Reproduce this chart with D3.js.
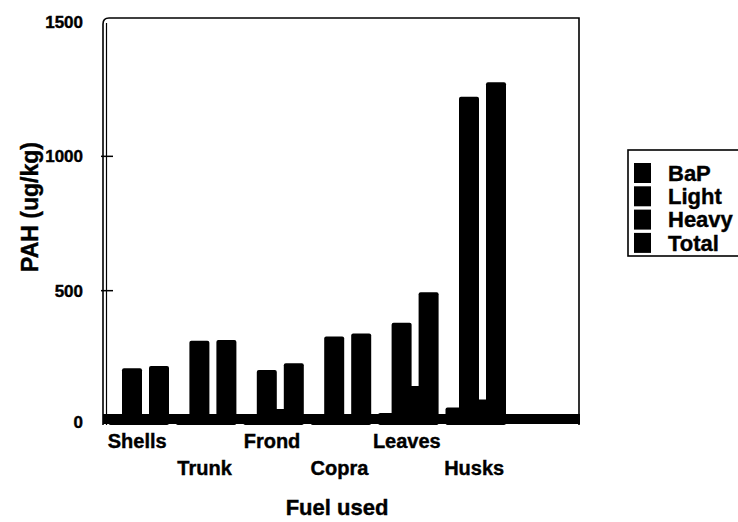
<!DOCTYPE html>
<html>
<head>
<meta charset="utf-8">
<script src="https://cdn.jsdelivr.net/npm/d3@7"></script>
<style>
    body { margin: 0; background: #fff; }
    text { font-family: "Liberation Sans", Arial, sans-serif; font-weight: bold; fill: #000; stroke: #000; stroke-width: 0.4px; }
</style>
</head>
<body>
<div id="chart"></div>
<script>
// Data
const categories = ["Shells", "Trunk", "Frond", "Copra", "Leaves", "Husks"];
const series = ["BaP", "Light", "Heavy", "Total"];
const bap = [15, 15, 40, 25, 45, 65];
const light = [211, 314, 205, 329, 381, 1222];
const heavy = [30, 20, 60, 35, 145, 95];
const total = [220, 316, 230, 341, 494, 1276];
const yTicks = [0, 500, 1000, 1500];

const values = { BaP: bap, Light: light, Heavy: heavy, Total: total };

const width = 738, height = 522;

const svg = d3.select("#chart")
    .append("svg")
    .attr("width", width)
    .attr("height", height);

svg.append("rect")
    .attr("width", width)
    .attr("height", height)
    .attr("fill", "#fff");

// Scales
const y = d3.scaleLinear()
    .domain([0, 1500])
    .range([425, 22]);

const x0 = d3.scaleBand()
    .domain(categories)
    .range([105, 105 + 6 * 67.4]);

// bars overlap each other inside a group
const x1 = d3.scaleBand()
    .domain(series)
    .range([3.5, 57.5]);
const barWidth = 20;

// Flatten for drawing, in series order so later bars sit on top
const data = [];
categories.forEach((c, i) => {
    series.forEach(s => {
        data.push({ cat: c, key: s, value: values[s][i] });
    });
});

// Bars
svg.append("g")
    .selectAll("rect")
    .data(data)
    .join("rect")
    .attr("x", d => x0(d.cat) + x1(d.key))
    .attr("y", d => y(d.value))
    .attr("width", barWidth)
    .attr("height", d => y(0) - y(d.value))
    .attr("rx", 2)
    .attr("fill", "#000");

// Frame (rounded top-left corner, double left line)
const frameLeft = 103, frameRight = 579, frameTop = 18;
svg.append("path")
    .attr("d", `M${frameLeft},${y(0)} V${frameTop + 6} Q${frameLeft},${frameTop} ${frameLeft + 6},${frameTop} H${frameRight} V${y(0)}`)
    .attr("fill", "none")
    .attr("stroke", "#000")
    .attr("stroke-width", 1.6);
svg.append("line")
    .attr("x1", frameLeft + 3.5).attr("x2", frameLeft + 3.5)
    .attr("y1", frameTop + 5).attr("y2", y(0))
    .attr("stroke", "#000")
    .attr("stroke-width", 1.2);

// Thick baseline
svg.append("line")
    .attr("x1", frameLeft).attr("x2", frameRight + 1)
    .attr("y1", y(0) - 6).attr("y2", y(0) - 6)
    .attr("stroke", "#000")
    .attr("stroke-width", 10);

// Y ticks and labels
svg.append("g")
    .selectAll("line")
    .data(yTicks.filter(t => t > 0 && t < 1500))
    .join("line")
    .attr("x1", frameLeft - 2).attr("x2", frameLeft + 10)
    .attr("y1", d => y(d)).attr("y2", d => y(d))
    .attr("stroke", "#000")
    .attr("stroke-width", 1.5);

svg.append("g")
    .selectAll("text")
    .data(yTicks)
    .join("text")
    .attr("x", 83)
    .attr("y", d => d === 0 ? y(d) - 3 : y(d))
    .attr("dy", "0.35em")
    .attr("text-anchor", "end")
    .style("font-size", "17px")
    .text(d => d);

// X category labels on two staggered rows
svg.append("g")
    .selectAll("text")
    .data(categories)
    .join("text")
    .attr("x", d => x0(d) + x0.bandwidth() / 2 - 1.5)
    .attr("y", (d, i) => i % 2 === 0 ? 441 : 468)
    .attr("dy", "0.35em")
    .attr("text-anchor", "middle")
    .style("font-size", "20px")
    .text(d => d);

// Axis titles
svg.append("text")
    .attr("x", 337)
    .attr("y", 507)
    .attr("dy", "0.35em")
    .attr("text-anchor", "middle")
    .style("font-size", "22px")
    .text("Fuel used");

svg.append("text")
    .attr("transform", "translate(30,207) rotate(-90)")
    .attr("dy", "0.35em")
    .attr("text-anchor", "middle")
    .style("font-size", "23px")
    .text("PAH (ug/kg)");

// Legend
const legend = svg.append("g");
legend.append("rect")
    .attr("x", 628)
    .attr("y", 150)
    .attr("width", 130)
    .attr("height", 106)
    .attr("fill", "#fff")
    .attr("stroke", "#000")
    .attr("stroke-width", 1.6);

const items = legend.selectAll(".legend")
    .data(series)
    .join("g")
    .attr("class", "legend")
    .attr("transform", (d, i) => "translate(634," + (163 + i * 23.3) + ")");

items.append("rect")
    .attr("width", 17)
    .attr("height", 20)
    .attr("fill", "#000");

items.append("text")
    .attr("x", 34)
    .attr("y", 10)
    .attr("dy", "0.35em")
    .style("font-size", "22px")
    .text(d => d);
</script>
</body>
</html>
